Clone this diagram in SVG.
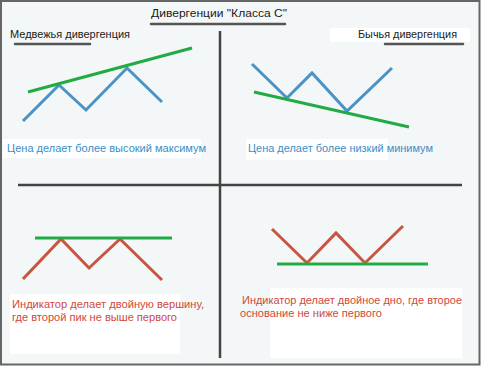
<svg xmlns="http://www.w3.org/2000/svg" width="481" height="366" viewBox="0 0 481 366">
<style>
.t{font-family:"Liberation Sans",Arial,sans-serif;font-size:11.8px}
.blk{fill:#1a1a1a}
.blue{fill:#3a8ec6}
.red{fill:#d0483a}
.ax{stroke:#444;stroke-width:2.5;fill:none}
.ul{stroke:#555;stroke-width:2.5;fill:none;stroke-linecap:round}
.price{stroke:#4a93c6;stroke-width:3;fill:none;stroke-linejoin:miter}
.ind{stroke:#c95440;stroke-width:3;fill:none}
.trend{stroke:#22aa44;stroke-width:3;fill:none}
.box{fill:#ffffff}
</style>
<rect x="1" y="1" width="478.5" height="363.5" fill="#f4f7f7" stroke="#666" stroke-width="2"/>
<g id="white-boxes">
<rect class="box" x="3" y="139" width="198" height="19"/>
<rect class="box" x="246" y="139" width="142" height="21"/>
<rect class="box" x="10" y="294" width="170" height="60"/>
<rect class="box" x="270" y="288" width="192" height="70"/>
<rect class="box" x="330" y="28" width="140" height="14"/>
</g>
<g id="axes">
<line class="ax" x1="220" y1="31" x2="220" y2="358"/>
<line class="ax" x1="18" y1="185" x2="462" y2="185"/>
</g>
<g id="title">
<text class="t blk" x="219" y="17" text-anchor="middle" font-size="12.5" textLength="136" lengthAdjust="spacingAndGlyphs">Дивергенции "Класса С"</text>
<line class="ul" x1="151" y1="24" x2="285" y2="24"/>
</g>
<g id="bearish-label">
<text class="t blk" x="10" y="38" textLength="120" lengthAdjust="spacingAndGlyphs">Медвежья дивергенция</text>
<line class="ul" x1="15" y1="44" x2="90" y2="44"/>
</g>
<g id="bullish-label">
<text class="t blk" x="358" y="38" textLength="99" lengthAdjust="spacingAndGlyphs">Бычья дивергенция</text>
<line class="ul" x1="385" y1="44" x2="463" y2="44"/>
</g>
<g id="panel-bear-price">
<polyline class="price" points="23,121 59,85 86,110 127,68 162,102"/>
<line class="trend" x1="28" y1="92" x2="192" y2="48"/>
<text class="t blue" x="7" y="152" textLength="199" lengthAdjust="spacingAndGlyphs">Цена делает более высокий максимум</text>
</g>
<g id="panel-bull-price">
<polyline class="price" points="252,64 287,98 312,73 347,111 392,68"/>
<line class="trend" x1="254" y1="92" x2="409" y2="127"/>
<text class="t blue" x="248" y="152" textLength="185" lengthAdjust="spacingAndGlyphs">Цена делает более низкий минимум</text>
</g>
<g id="panel-bear-ind">
<polyline class="ind" points="23,279 61,239 89,268 120,239 162,280"/>
<line class="trend" x1="35" y1="238" x2="172" y2="238"/>
<text class="t red" x="12" y="308" textLength="192" lengthAdjust="spacingAndGlyphs">Индикатор делает двойную вершину,</text>
<text class="t red" x="12" y="321" textLength="165" lengthAdjust="spacingAndGlyphs">где второй пик не выше первого</text>
</g>
<g id="panel-bull-ind">
<polyline class="ind" points="272,229 307,263 336,233 365,263 403,226"/>
<line class="trend" x1="277" y1="264" x2="428" y2="264"/>
<text class="t red" x="242" y="304" textLength="220" lengthAdjust="spacingAndGlyphs">Индикатор делает двойное дно, где второе</text>
<text class="t red" x="240" y="317" textLength="142" lengthAdjust="spacingAndGlyphs">основание не ниже первого</text>
</g>
</svg>
